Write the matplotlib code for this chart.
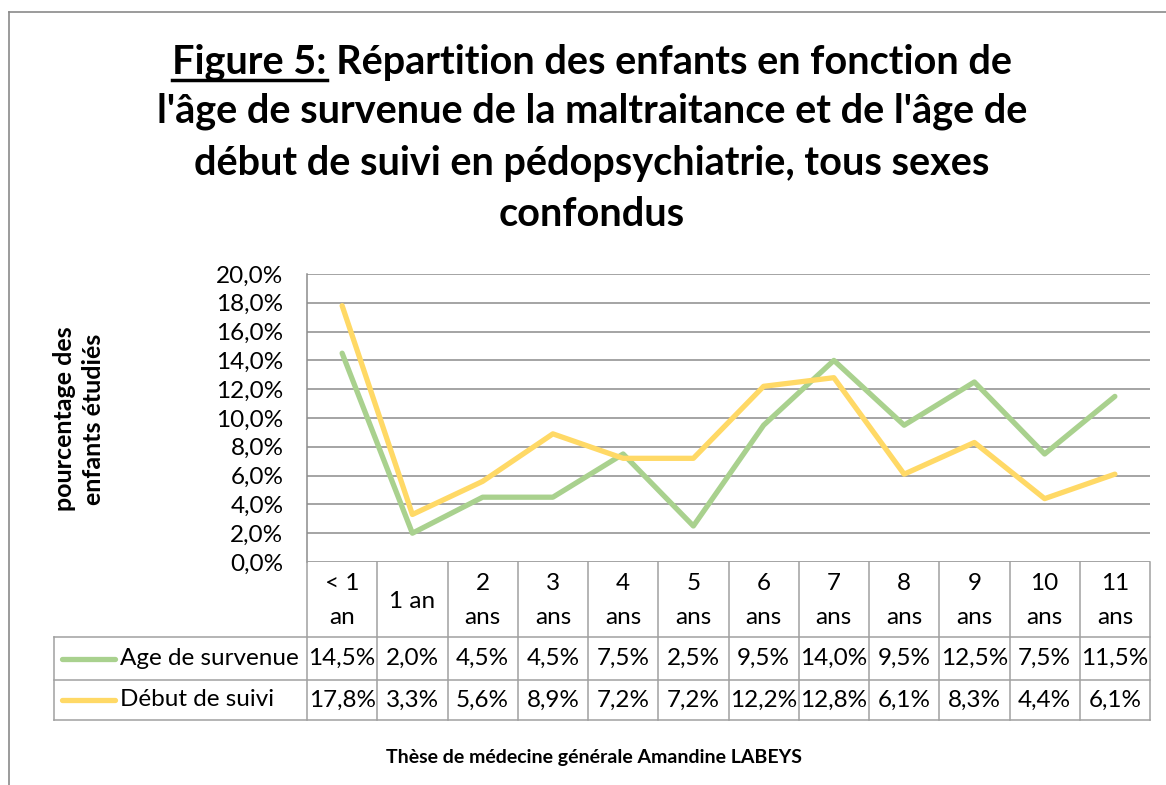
import matplotlib
matplotlib.use('Agg')
import matplotlib.pyplot as plt
from matplotlib.lines import Line2D
from matplotlib.ticker import FuncFormatter

# Data (percent of children studied)
categories = ['< 1 an', '1 an', '2 ans', '3 ans', '4 ans', '5 ans', '6 ans',
              '7 ans', '8 ans', '9 ans', '10 ans', '11 ans']
age_survenue = [14.5, 2.0, 4.5, 4.5, 7.5, 2.5, 9.5, 14.0, 9.5, 12.5, 7.5, 11.5]
debut_suivi = [17.8, 3.3, 5.6, 8.9, 7.2, 7.2, 12.2, 12.8, 6.1, 8.3, 4.4, 6.1]
series_names = ['Age de survenue', 'Début de suivi']
series_colors = ['#A9D18E', '#FFD966']
y_ticks = [0, 2, 4, 6, 8, 10, 12, 14, 16, 18, 20]

title_lines = ['Figure 5: Répartition des enfants en fonction de',
               "l'âge de survenue de la maltraitance et de l'âge de",
               'début de suivi en pédopsychiatrie, tous sexes',
               'confondus']
ylabel = 'pourcentage des\nenfants étudiés'
footer = 'Thèse de médecine générale Amandine LABEYS'

plt.rcParams['font.family'] = ['Lato', 'DejaVu Sans']

W, H = 1166, 785
fig = plt.figure(figsize=(W / 100, H / 100), dpi=100)


def fx(x):
    return x / W


def fy(y):
    return 1 - y / H


grid_col = '#8c8c8c'
table_col = '#a0a0a0'
fs = 17.5
lw_series = 3.8

# outer chart frame (runs off the right and bottom edges)
fig.add_artist(Line2D([fx(9), fx(9)], [fy(12), fy(800)], color='#8a8a8a', lw=1.2))
fig.add_artist(Line2D([fx(9), fx(1180)], [fy(12), fy(12)], color='#8a8a8a', lw=1.2))

# plot area
left, right, top, bottom = 307, 1150, 274, 562
ax = fig.add_axes([fx(left), fy(bottom), (right - left) / W, (bottom - top) / H])
x = list(range(len(categories)))
ax.plot(x, age_survenue, color=series_colors[0], lw=lw_series, solid_capstyle='round', zorder=3)
ax.plot(x, debut_suivi, color=series_colors[1], lw=lw_series, solid_capstyle='round', zorder=4)
ax.set_xlim(-0.5, len(categories) - 0.5)
ax.set_ylim(0, 20)
ax.set_yticks(y_ticks)
ax.yaxis.set_major_formatter(FuncFormatter(lambda v, p: ('%.1f%%' % v).replace('.', ',')))
ax.set_xticks([])
ax.tick_params(axis='y', length=0, pad=17, labelsize=fs)
ax.yaxis.grid(True, color=grid_col, lw=1.1)
ax.set_axisbelow(True)
for s in ['top', 'right', 'bottom']:
    ax.spines[s].set_visible(False)
ax.spines['left'].set_color(grid_col)
ax.spines['left'].set_linewidth(1.1)

# data table under the plot
col_w = (right - left) / len(categories)
t_left, t_head, t_r1, t_r2 = 54, 637, 680, 720
tab = fig.add_axes([fx(t_left), fy(t_r2), (right - t_left) / W, (t_r2 - bottom) / H])
xmin = -0.5 - (left - t_left) / col_w
xmax = len(categories) - 0.5
tab.set_xlim(xmin, xmax)
tab.set_ylim(t_r2, bottom)
tab.axis('off')

for k in range(len(categories) + 1):
    tab.plot([k - 0.5, k - 0.5], [bottom, t_r2], color=table_col, lw=1.1, clip_on=False)
tab.plot([xmin, xmin], [t_head, t_r2], color=table_col, lw=1.1, clip_on=False)
for yy in [t_head, t_r1, t_r2]:
    tab.plot([xmin, xmax], [yy, yy], color=table_col, lw=1.1, clip_on=False)

for i, c in enumerate(categories):
    if c == '1 an':
        tab.text(i, 601, c, ha='center', va='center', fontsize=fs)
    else:
        first, second = c.rsplit(' ', 1)
        tab.text(i, 584, first, ha='center', va='center', fontsize=fs)
        tab.text(i, 618, second, ha='center', va='center', fontsize=fs)

rows_y = [(t_head + t_r1) / 2, (t_r1 + t_r2) / 2]
for name, vals, col, yy in zip(series_names, [age_survenue, debut_suivi], series_colors, rows_y):
    lx0 = xmin + 8 / col_w
    lx1 = xmin + 61 / col_w
    tab.plot([lx0, lx1], [yy, yy], color=col, lw=lw_series, solid_capstyle='round', clip_on=False)
    tab.text(xmin + 66 / col_w, yy, name, ha='left', va='center', fontsize=fs)
    for i, v in enumerate(vals):
        tab.text(i, yy, ('%.1f%%' % v).replace('.', ','), ha='center', va='center', fontsize=fs)

# y axis title
fig.text(fx(79), fy(419), ylabel, rotation=90, ha='center', va='center',
         fontsize=18, fontweight='bold', multialignment='center', linespacing=1.3)

# title
title_y = [62, 111, 163, 215]
title_fs = 28.5
fig.canvas.draw()
renderer = fig.canvas.get_renderer()
for line, yy in zip(title_lines, title_y):
    t = fig.text(fx(592), fy(yy), line, ha='center', va='center',
                 fontsize=title_fs, fontweight='bold')
    if line.startswith('Figure 5:'):
        bb = t.get_window_extent(renderer)
        probe = fig.text(0, 0, 'Figure 5:', fontsize=title_fs, fontweight='bold')
        pw = probe.get_window_extent(renderer).width
        probe.remove()
        uy = bb.y0 + 1
        fig.add_artist(Line2D([bb.x0 / W, (bb.x0 + pw) / W], [uy / H, uy / H],
                              color='black', lw=2.5))

# footer
fig.text(fx(594), fy(757), footer, ha='center', va='center', fontsize=14, fontweight='bold')

fig.savefig('out.png', dpi=100)
